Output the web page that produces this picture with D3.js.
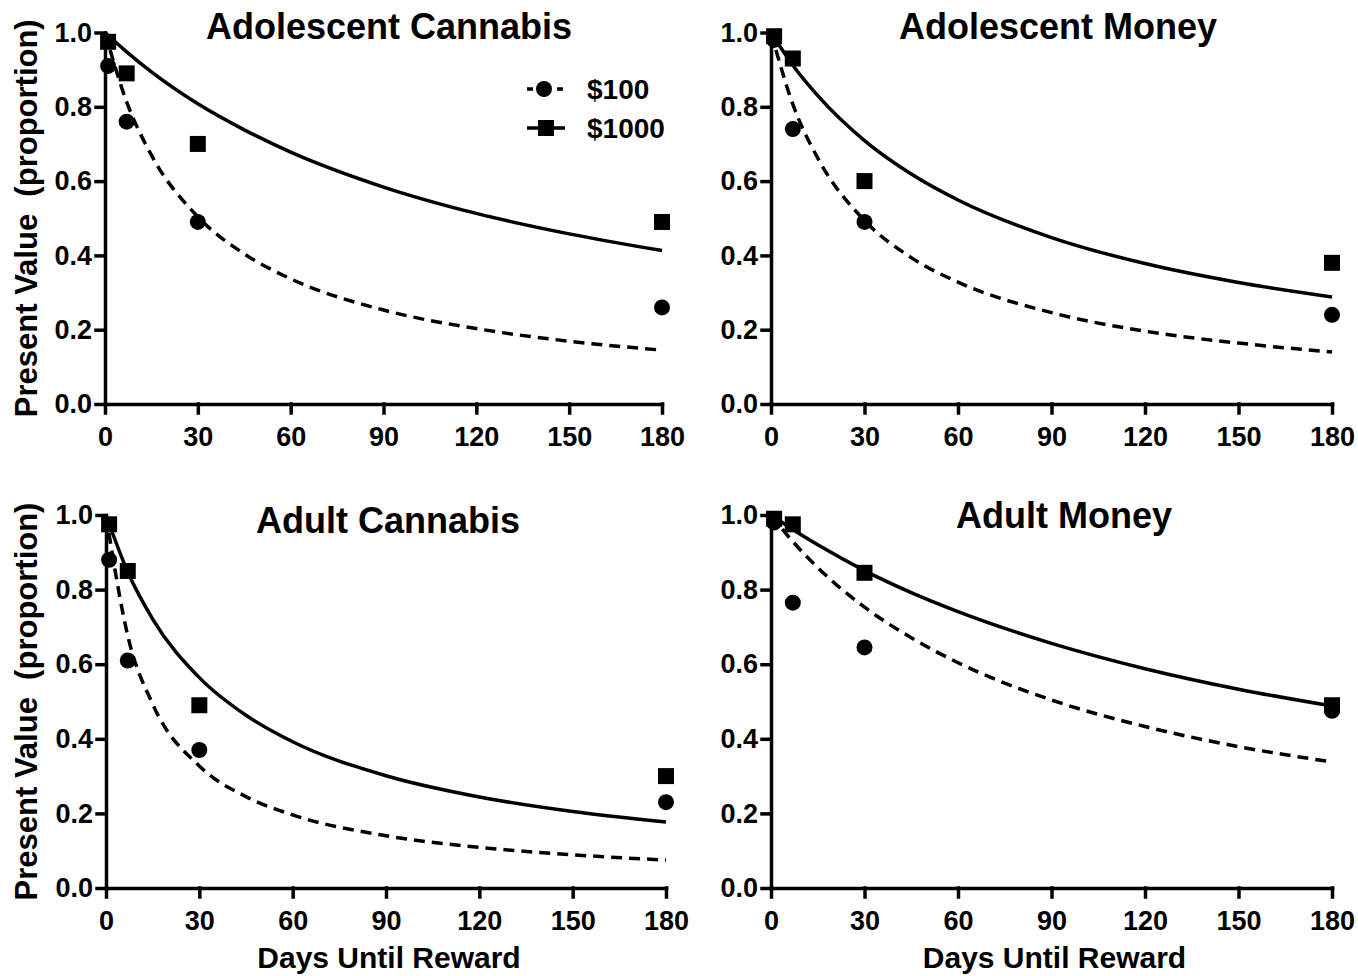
<!DOCTYPE html>
<html>
<head>
<meta charset="utf-8">
<script src="https://cdn.jsdelivr.net/npm/d3@7"></script>
<style>
  body { margin: 0; background: #fff; }
  svg text { font-family: "Liberation Sans", Arial, sans-serif; font-weight: bold; fill: #000; }
</style>
</head>
<body>
<div id="chart"></div>
<script>
const days = [1, 7, 30, 180];
const fitDays = [0, 7, 15, 30, 45, 60, 90, 120, 150, 180];
const xTicks = [0, 30, 60, 90, 120, 150, 180];
const yTicks = [0, 0.2, 0.4, 0.6, 0.8, 1.0];
const panelTitles = ["Adolescent Cannabis", "Adolescent Money", "Adult Cannabis", "Adult Money"];
const legendLabels = ["$100", "$1000"];

// points ($100 circles, $1000 squares)
const adolCannabis100 = [0.91, 0.76, 0.49, 0.26];
const adolCannabis1000 = [0.975, 0.89, 0.70, 0.49];
const adolMoney100 = [0.98, 0.74, 0.49, 0.24];
const adolMoney1000 = [0.99, 0.93, 0.60, 0.38];
const adultCannabis100 = [0.88, 0.61, 0.37, 0.23];
const adultCannabis1000 = [0.975, 0.85, 0.49, 0.30];
const adultMoney100 = [0.98, 0.765, 0.645, 0.475];
const adultMoney1000 = [0.99, 0.975, 0.845, 0.49];

const adolCannabisFit100 = [1, 0.813, 0.670, 0.504, 0.404, 0.337, 0.253, 0.203, 0.169, 0.145];
const adolCannabisFit1000 = [1, 0.948, 0.894, 0.808, 0.738, 0.678, 0.584, 0.513, 0.458, 0.413];
const adolMoneyFit100 = [1, 0.807, 0.662, 0.494, 0.394, 0.328, 0.246, 0.196, 0.164, 0.140];
const adolMoneyFit1000 = [1, 0.912, 0.830, 0.709, 0.619, 0.549, 0.448, 0.378, 0.327, 0.288];
const adultCannabisFit100 = [1, 0.676, 0.493, 0.327, 0.245, 0.196, 0.140, 0.109, 0.089, 0.075];
const adultCannabisFit1000 = [1, 0.847, 0.721, 0.564, 0.463, 0.392, 0.301, 0.244, 0.205, 0.177];
const adultMoneyFit100 = [1, 0.929, 0.859, 0.753, 0.671, 0.604, 0.504, 0.433, 0.379, 0.338];
const adultMoneyFit1000 = [1, 0.961, 0.920, 0.851, 0.792, 0.741, 0.656, 0.588, 0.533, 0.488];

const W = 1358, H = 976;

const panels = [
  { title: panelTitles[0], x0: 105, x1: 662, y0: 404, y1: 32.5, tx: 389, ty: 39,
    p100: adolCannabis100, p1000: adolCannabis1000, f100: adolCannabisFit100, f1000: adolCannabisFit1000,
    yLabel: true, xLabel: false, legend: true },
  { title: panelTitles[1], x0: 771, x1: 1332, y0: 404, y1: 32.5, tx: 1058, ty: 39,
    p100: adolMoney100, p1000: adolMoney1000, f100: adolMoneyFit100, f1000: adolMoneyFit1000,
    yLabel: false, xLabel: false },
  { title: panelTitles[2], x0: 106, x1: 666, y0: 888, y1: 515, tx: 388, ty: 533,
    p100: adultCannabis100, p1000: adultCannabis1000, f100: adultCannabisFit100, f1000: adultCannabisFit1000,
    yLabel: true, xLabel: true },
  { title: panelTitles[3], x0: 771, x1: 1332, y0: 888, y1: 515, tx: 1064, ty: 528,
    p100: adultMoney100, p1000: adultMoney1000, f100: adultMoneyFit100, f1000: adultMoneyFit1000,
    yLabel: false, xLabel: true }
];

const svg = d3.select("#chart").append("svg")
  .attr("width", W).attr("height", H);

const sq = d3.symbol().type(d3.symbolSquare).size(16 * 16);

panels.forEach(p => {
  const x = d3.scaleLinear().domain([0, 180]).range([p.x0, p.x1]);
  const y = d3.scaleLinear().domain([0, 1]).range([p.y0, p.y1]);
  const g = svg.append("g");

  // axes
  const xa = g.append("g").attr("transform", `translate(0,${p.y0})`)
    .call(d3.axisBottom(x).tickValues(xTicks).tickSize(9).tickSizeOuter(0).tickPadding(14));
  const ya = g.append("g").attr("transform", `translate(${p.x0},0)`)
    .call(d3.axisLeft(y).tickValues(yTicks).tickSize(9).tickSizeOuter(0).tickPadding(4)
      .tickFormat(d3.format(".1f")));
  [xa, ya].forEach(a => {
    a.selectAll("path, line").attr("stroke", "#000").attr("stroke-width", 3.5)
      .attr("stroke-linecap", "square");
    a.selectAll("text").style("font-size", "27px").style("font-weight", "bold")
      .attr("fill", "#000");
  });

  // fitted curves
  const line = d3.line().x((d, i) => x(fitDays[i])).y(d => y(d)).curve(d3.curveMonotoneX);
  g.append("path").attr("d", line(p.f1000))
    .attr("fill", "none").attr("stroke", "#000").attr("stroke-width", 3.5);
  g.append("path").attr("d", line(p.f100))
    .attr("fill", "none").attr("stroke", "#000").attr("stroke-width", 3.5)
    .attr("stroke-dasharray", "11,7");

  // points
  g.selectAll("circle.pt").data(p.p100).join("circle")
    .attr("class", "pt")
    .attr("cx", (d, i) => x(days[i])).attr("cy", d => y(d)).attr("r", 8)
    .attr("fill", "#000");
  g.selectAll("path.sq").data(p.p1000).join("path")
    .attr("class", "sq")
    .attr("transform", (d, i) => `translate(${x(days[i])},${y(d)})`)
    .attr("d", sq).attr("fill", "#000");

  // title
  g.append("text").attr("x", p.tx).attr("y", p.ty)
    .attr("text-anchor", "middle").style("font-size", "36px")
    .text(p.title);

  if (p.yLabel) {
    g.append("text")
      .attr("transform", `translate(37,${(p.y0 + p.y1) / 2}) rotate(-90)`)
      .attr("text-anchor", "middle").style("font-size", "31px")
      .attr("xml:space", "preserve")
      .text("Present Value  (proportion)");
  }
  if (p.xLabel) {
    g.append("text").attr("x", (p.x0 + p.x1) / 2 + 3).attr("y", p.y0 + 80)
      .attr("text-anchor", "middle").style("font-size", "30px")
      .text("Days Until Reward");
  }

  if (p.legend) {
    const lg = g.append("g");
    const rows = [
      { label: legendLabels[0], yy: 89, dash: "6,9", shape: "circle" },
      { label: legendLabels[1], yy: 128, dash: null, shape: "square" }
    ];
    rows.forEach(r => {
      lg.append("line").attr("x1", 527).attr("x2", 565).attr("y1", r.yy).attr("y2", r.yy)
        .attr("stroke", "#000").attr("stroke-width", 3.5)
        .attr("stroke-dasharray", r.dash);
      if (r.shape === "circle") {
        lg.append("circle").attr("cx", 544).attr("cy", r.yy).attr("r", 8).attr("fill", "#000");
      } else {
        lg.append("path").attr("transform", `translate(546,${r.yy})`).attr("d", sq).attr("fill", "#000");
      }
      lg.append("text").attr("x", 587).attr("y", r.yy + 10)
        .style("font-size", "28px").text(r.label);
    });
  }
});
</script>
</body>
</html>
